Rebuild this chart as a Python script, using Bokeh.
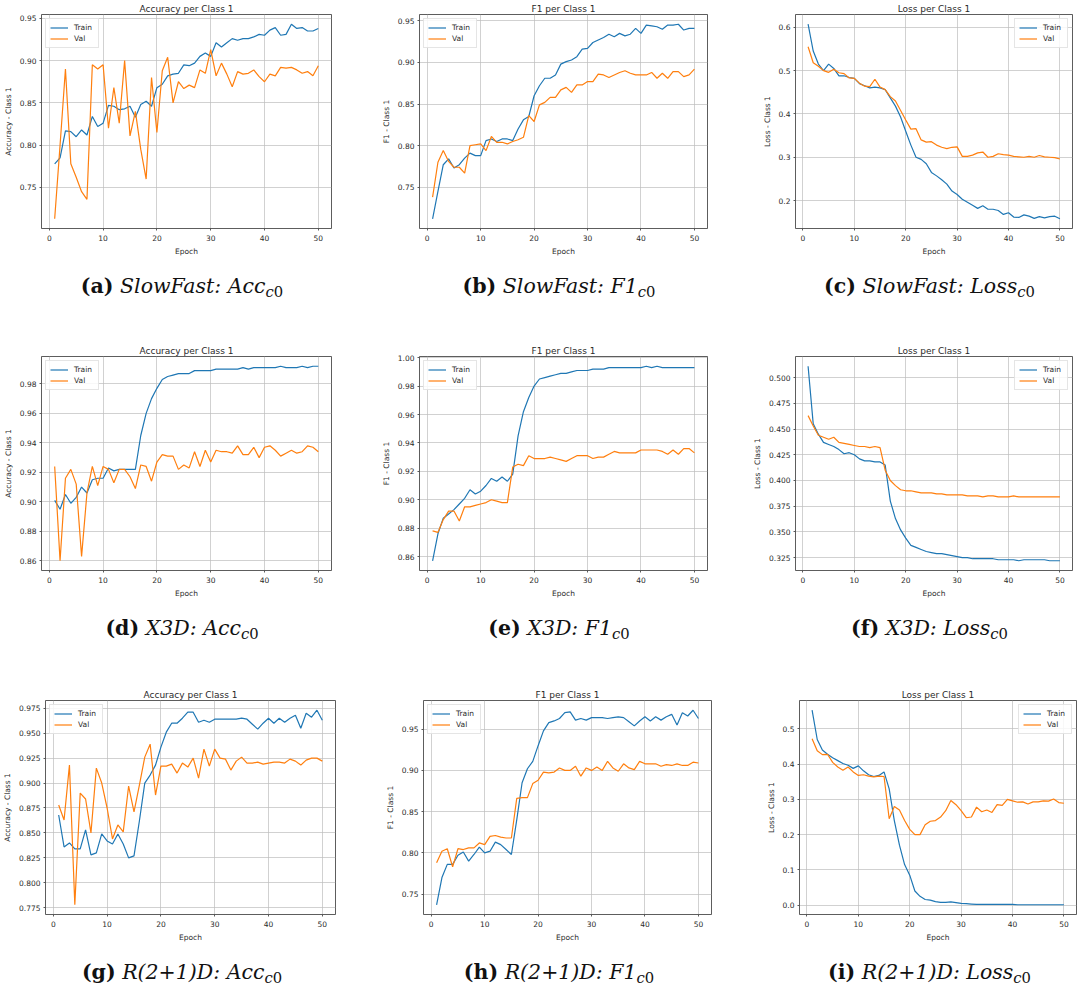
import numpy as np
from bokeh.plotting import figure
from bokeh.models import (Range1d, FixedTicker, PrintfTickFormatter, Legend,
                          LegendItem, Div)
from bokeh.layouts import column, row
from bokeh.embed import file_html
from bokeh.resources import INLINE

epochs = list(range(1, 51))

# ---------------- SlowFast ----------------
sf_acc_train = [0.778, 0.785, 0.817, 0.816, 0.810, 0.818, 0.812, 0.834, 0.822, 0.826,
                0.847, 0.846, 0.842, 0.843, 0.846, 0.833, 0.848, 0.852, 0.846, 0.868,
                0.872, 0.882, 0.884, 0.885, 0.895, 0.894, 0.897, 0.905, 0.909, 0.905,
                0.921, 0.916, 0.921, 0.926, 0.924, 0.926, 0.926, 0.928, 0.931, 0.930,
                0.936, 0.939, 0.930, 0.931, 0.943, 0.938, 0.939, 0.935, 0.935, 0.938]
sf_acc_val = [0.713, 0.800, 0.890, 0.778, 0.762, 0.745, 0.736, 0.895, 0.890, 0.895,
              0.820, 0.868, 0.826, 0.900, 0.811, 0.840, 0.795, 0.760, 0.880, 0.815,
              0.888, 0.904, 0.850, 0.875, 0.867, 0.871, 0.868, 0.889, 0.885, 0.913,
              0.882, 0.897, 0.884, 0.869, 0.887, 0.884, 0.885, 0.889, 0.881, 0.875,
              0.884, 0.882, 0.892, 0.891, 0.892, 0.889, 0.885, 0.887, 0.882, 0.894]
sf_f1_train = [0.712, 0.745, 0.777, 0.784, 0.773, 0.777, 0.785, 0.791, 0.788, 0.788,
               0.806, 0.808, 0.805, 0.808, 0.808, 0.806, 0.820, 0.831, 0.835, 0.860,
               0.872, 0.881, 0.881, 0.885, 0.898, 0.901, 0.903, 0.907, 0.916, 0.917,
               0.924, 0.927, 0.930, 0.934, 0.931, 0.935, 0.932, 0.934, 0.941, 0.935,
               0.945, 0.944, 0.943, 0.940, 0.945, 0.945, 0.946, 0.939, 0.941, 0.941]
sf_f1_val = [0.738, 0.780, 0.794, 0.781, 0.774, 0.774, 0.767, 0.800, 0.801, 0.802,
             0.794, 0.811, 0.804, 0.804, 0.802, 0.805, 0.807, 0.810, 0.836, 0.829,
             0.849, 0.852, 0.858, 0.858, 0.867, 0.870, 0.864, 0.873, 0.873, 0.877,
             0.877, 0.886, 0.885, 0.882, 0.885, 0.888, 0.890, 0.887, 0.885, 0.885,
             0.885, 0.888, 0.881, 0.887, 0.881, 0.889, 0.889, 0.883, 0.885, 0.892]
sf_loss_train = [0.607, 0.545, 0.515, 0.500, 0.515, 0.505, 0.488, 0.488, 0.484, 0.482,
                 0.470, 0.465, 0.460, 0.462, 0.460, 0.456, 0.437, 0.418, 0.393, 0.360,
                 0.328, 0.300, 0.295, 0.285, 0.265, 0.257, 0.248, 0.238, 0.222, 0.214,
                 0.203, 0.196, 0.189, 0.182, 0.188, 0.180, 0.180, 0.177, 0.168, 0.172,
                 0.162, 0.161, 0.167, 0.164, 0.159, 0.163, 0.160, 0.163, 0.164, 0.158]
sf_loss_val = [0.555, 0.518, 0.510, 0.500, 0.496, 0.503, 0.495, 0.493, 0.483, 0.482,
               0.471, 0.464, 0.463, 0.480, 0.462, 0.456, 0.440, 0.430, 0.408, 0.386,
               0.365, 0.366, 0.340, 0.335, 0.336, 0.328, 0.323, 0.320, 0.323, 0.324,
               0.302, 0.302, 0.305, 0.310, 0.312, 0.300, 0.302, 0.308, 0.306, 0.305,
               0.302, 0.301, 0.300, 0.302, 0.300, 0.304, 0.301, 0.300, 0.299, 0.296]

# ---------------- X3D ----------------
x3d_acc_train = [0.901, 0.895, 0.905, 0.899, 0.903, 0.910, 0.906, 0.915, 0.916, 0.916,
                 0.923, 0.921, 0.922, 0.922, 0.922, 0.922, 0.945, 0.960, 0.970, 0.977,
                 0.983, 0.985, 0.986, 0.987, 0.987, 0.987, 0.989, 0.989, 0.989, 0.989,
                 0.990, 0.990, 0.990, 0.990, 0.990, 0.991, 0.990, 0.991, 0.991, 0.991,
                 0.991, 0.991, 0.992, 0.991, 0.991, 0.991, 0.992, 0.991, 0.992, 0.992]
x3d_acc_val = [0.924, 0.860, 0.916, 0.922, 0.912, 0.863, 0.906, 0.924, 0.911, 0.924,
               0.922, 0.913, 0.922, 0.922, 0.917, 0.909, 0.925, 0.924, 0.914, 0.927,
               0.932, 0.931, 0.931, 0.922, 0.925, 0.923, 0.934, 0.924, 0.935, 0.927,
               0.935, 0.934, 0.934, 0.933, 0.938, 0.932, 0.932, 0.937, 0.930, 0.937,
               0.938, 0.935, 0.931, 0.933, 0.935, 0.933, 0.934, 0.938, 0.937, 0.934]
x3d_f1_train = [0.857, 0.876, 0.887, 0.890, 0.893, 0.897, 0.901, 0.907, 0.904, 0.906,
                0.910, 0.915, 0.913, 0.916, 0.913, 0.918, 0.945, 0.962, 0.972, 0.980,
                0.985, 0.986, 0.987, 0.988, 0.989, 0.989, 0.990, 0.991, 0.991, 0.991,
                0.992, 0.992, 0.992, 0.993, 0.993, 0.993, 0.993, 0.993, 0.993, 0.993,
                0.994, 0.993, 0.994, 0.993, 0.993, 0.993, 0.993, 0.993, 0.993, 0.993]
x3d_f1_val = [0.878, 0.877, 0.886, 0.892, 0.892, 0.885, 0.895, 0.895, 0.896, 0.897,
              0.898, 0.900, 0.899, 0.898, 0.898, 0.923, 0.925, 0.924, 0.931, 0.929,
              0.929, 0.929, 0.930, 0.929, 0.928, 0.927, 0.929, 0.931, 0.931, 0.931,
              0.929, 0.930, 0.930, 0.932, 0.934, 0.933, 0.933, 0.933, 0.933, 0.935,
              0.935, 0.935, 0.935, 0.934, 0.932, 0.935, 0.932, 0.936, 0.936, 0.933]
x3d_loss_train = [0.511, 0.455, 0.445, 0.437, 0.435, 0.433, 0.430, 0.426, 0.427, 0.425,
                  0.421, 0.419, 0.419, 0.418, 0.418, 0.415, 0.380, 0.363, 0.352, 0.344,
                  0.337, 0.335, 0.333, 0.331, 0.330, 0.329, 0.329, 0.328, 0.327, 0.326,
                  0.325, 0.325, 0.324, 0.324, 0.324, 0.324, 0.324, 0.323, 0.323, 0.323,
                  0.323, 0.322, 0.323, 0.323, 0.323, 0.323, 0.323, 0.322, 0.322, 0.322]
x3d_loss_val = [0.463, 0.453, 0.444, 0.442, 0.440, 0.442, 0.437, 0.436, 0.435, 0.434,
                0.433, 0.433, 0.432, 0.433, 0.432, 0.410, 0.400, 0.395, 0.391, 0.390,
                0.390, 0.389, 0.388, 0.388, 0.388, 0.387, 0.387, 0.386, 0.386, 0.386,
                0.386, 0.385, 0.385, 0.385, 0.384, 0.385, 0.385, 0.384, 0.384, 0.384,
                0.385, 0.384, 0.384, 0.384, 0.384, 0.384, 0.384, 0.384, 0.384, 0.384]

# ---------------- R(2+1)D ----------------
r21_acc_train = [0.868, 0.836, 0.840, 0.834, 0.834, 0.853, 0.828, 0.830, 0.849, 0.842,
                 0.839, 0.849, 0.839, 0.825, 0.827, 0.862, 0.900, 0.908, 0.918, 0.936,
                 0.951, 0.960, 0.960, 0.965, 0.971, 0.971, 0.961, 0.963, 0.961, 0.964,
                 0.964, 0.964, 0.964, 0.964, 0.965, 0.964, 0.959, 0.954, 0.960, 0.965,
                 0.960, 0.965, 0.961, 0.965, 0.968, 0.955, 0.970, 0.966, 0.973, 0.963]
r21_acc_val = [0.878, 0.863, 0.918, 0.778, 0.890, 0.884, 0.850, 0.915, 0.900, 0.875,
               0.844, 0.858, 0.851, 0.897, 0.871, 0.898, 0.926, 0.939, 0.888, 0.917,
               0.917, 0.919, 0.910, 0.920, 0.916, 0.925, 0.905, 0.934, 0.917, 0.934,
               0.925, 0.924, 0.913, 0.922, 0.926, 0.920, 0.920, 0.921, 0.919, 0.920,
               0.921, 0.921, 0.920, 0.924, 0.922, 0.918, 0.923, 0.925, 0.925, 0.922]
r21_f1_train = [0.737, 0.770, 0.786, 0.786, 0.797, 0.801, 0.790, 0.798, 0.807, 0.800,
                0.802, 0.813, 0.810, 0.804, 0.798, 0.840, 0.885, 0.902, 0.911, 0.930,
                0.948, 0.958, 0.960, 0.963, 0.970, 0.971, 0.961, 0.963, 0.961, 0.964,
                0.964, 0.964, 0.963, 0.964, 0.965, 0.964, 0.959, 0.954, 0.960, 0.965,
                0.960, 0.965, 0.961, 0.965, 0.968, 0.955, 0.970, 0.966, 0.973, 0.963]
r21_f1_val = [0.788, 0.802, 0.805, 0.783, 0.805, 0.804, 0.806, 0.806, 0.812, 0.810,
              0.820, 0.821, 0.819, 0.818, 0.818, 0.866, 0.867, 0.867, 0.884, 0.888,
              0.898, 0.897, 0.898, 0.903, 0.900, 0.900, 0.905, 0.893, 0.903, 0.900,
              0.904, 0.900, 0.911, 0.903, 0.899, 0.908, 0.903, 0.901, 0.911, 0.908,
              0.908, 0.908, 0.905, 0.907, 0.906, 0.908, 0.906, 0.906, 0.910, 0.909]
r21_loss_train = [0.553, 0.470, 0.440, 0.428, 0.418, 0.410, 0.402, 0.397, 0.388, 0.395,
                  0.381, 0.370, 0.365, 0.368, 0.378, 0.330, 0.240, 0.170, 0.115, 0.085,
                  0.040, 0.025, 0.016, 0.014, 0.010, 0.008, 0.008, 0.009, 0.007, 0.005,
                  0.004, 0.003, 0.002, 0.002, 0.002, 0.002, 0.002, 0.002, 0.002, 0.002,
                  0.001, 0.001, 0.001, 0.001, 0.001, 0.001, 0.001, 0.001, 0.001, 0.001]
r21_loss_val = [0.472, 0.438, 0.427, 0.428, 0.405, 0.392, 0.383, 0.392, 0.378, 0.368,
                0.370, 0.366, 0.364, 0.366, 0.365, 0.245, 0.280, 0.270, 0.240, 0.215,
                0.200, 0.200, 0.228, 0.238, 0.240, 0.250, 0.268, 0.297, 0.285, 0.268,
                0.248, 0.250, 0.278, 0.265, 0.270, 0.263, 0.285, 0.283, 0.300, 0.296,
                0.292, 0.293, 0.287, 0.293, 0.293, 0.296, 0.295, 0.301, 0.291, 0.289]

# ---------------- tick labels / texts ----------------
x_ticks = [0, 10, 20, 30, 40, 50]
ticks_a = [0.75, 0.80, 0.85, 0.90, 0.95]
ticks_b = [0.75, 0.80, 0.85, 0.90, 0.95]
ticks_c = [0.2, 0.3, 0.4, 0.5, 0.6]
ticks_d = [0.86, 0.88, 0.90, 0.92, 0.94, 0.96, 0.98]
ticks_e = [0.86, 0.88, 0.90, 0.92, 0.94, 0.96, 0.98, 1.00]
ticks_f = [0.325, 0.350, 0.375, 0.400, 0.425, 0.450, 0.475, 0.500]
ticks_g = [0.775, 0.800, 0.825, 0.850, 0.875, 0.900, 0.925, 0.950, 0.975]
ticks_h = [0.75, 0.80, 0.85, 0.90, 0.95]
ticks_i = [0.0, 0.1, 0.2, 0.3, 0.4, 0.5]

titles = ["Accuracy per Class 1", "F1 per Class 1", "Loss per Class 1"]
ylabels = ["Accuracy - Class 1", "F1 - Class 1", "Loss - Class 1"]
series_names = ["Train", "Val"]
captions = [
    ("(a)", "SlowFast: Acc"), ("(b)", "SlowFast: F1"), ("(c)", "SlowFast: Loss"),
    ("(d)", "X3D: Acc"), ("(e)", "X3D: F1"), ("(f)", "X3D: Loss"),
    ("(g)", "R(2+1)D: Acc"), ("(h)", "R(2+1)D: F1"), ("(i)", "R(2+1)D: Loss"),
]

BLUE = "#1f77b4"
ORANGE = "#ff7f0e"
FONT = "DejaVu Sans"
TXT = "#2a2a2a"

# column geometry: (border_left, frame_width, border_right)
COLS = [(37, 290, 23), (65, 288, 20), (68, 277, 2)]
FRAME_H = 214
TOP = 14
BOTTOM = 30


def make_fig(col, train, val, title, ylabel, yticks, yfmt, loc):
    bl, fw, br = COLS[col]
    lo = min(min(train), min(val))
    hi = max(max(train), max(val))
    pad = 0.05 * (hi - lo)
    xpad = 0.05 * (max(epochs) - min(epochs))
    p = figure(frame_width=fw, frame_height=FRAME_H, output_backend="svg",
               toolbar_location=None,
               x_range=Range1d(min(epochs) - xpad, max(epochs) + xpad),
               y_range=Range1d(lo - pad, hi + pad),
               min_border_left=bl, min_border_right=br,
               min_border_top=TOP, min_border_bottom=BOTTOM)
    p.title.text = title
    p.title.align = "center"
    p.title.text_font = FONT
    p.title.text_font_size = "9px"
    p.title.text_font_style = "normal"
    p.title.text_color = TXT
    p.title.standoff = 1
    p.title.offset = 0

    p.outline_line_color = "#333333"
    p.outline_line_width = 0.8
    p.background_fill_color = "white"
    p.border_fill_color = "white"

    p.xaxis.ticker = FixedTicker(ticks=x_ticks)
    p.yaxis.ticker = FixedTicker(ticks=yticks)
    p.yaxis.formatter = PrintfTickFormatter(format=yfmt)
    p.xaxis.axis_label = "Epoch"
    p.yaxis.axis_label = ylabel
    for ax in (p.xaxis[0], p.yaxis[0]):
        ax.axis_line_color = None
        ax.major_tick_line_color = "#333333"
        ax.major_tick_line_width = 0.8
        ax.major_tick_out = 2
        ax.major_tick_in = 0
        ax.minor_tick_line_color = None
        ax.major_label_text_font = FONT
        ax.major_label_text_font_size = "7.5px"
        ax.major_label_text_color = TXT
        ax.axis_label_text_font = FONT
        ax.axis_label_text_font_size = "7.5px"
        ax.axis_label_text_font_style = "normal"
        ax.axis_label_text_color = TXT
    p.xaxis.major_label_standoff = 4
    p.xaxis.axis_label_standoff = 3
    p.yaxis.major_label_standoff = 3
    p.yaxis.axis_label_standoff = 4
    p.grid.grid_line_color = "#bdbdbd"
    p.grid.grid_line_width = 0.7

    r1 = p.line(epochs, train, line_color=BLUE, line_width=1.2)
    r2 = p.line(epochs, val, line_color=ORANGE, line_width=1.2)
    leg = Legend(items=[LegendItem(label=series_names[0], renderers=[r1]),
                        LegendItem(label=series_names[1], renderers=[r2])],
                 location=loc)
    leg.label_text_font = FONT
    leg.label_text_font_size = "7.5px"
    leg.label_text_color = TXT
    leg.glyph_width = 18
    leg.glyph_height = 9
    leg.label_height = 9
    leg.label_standoff = 6
    leg.spacing = 2
    leg.padding = 4
    leg.margin = 4
    leg.border_line_color = "#cccccc"
    leg.border_line_width = 0.8
    leg.background_fill_alpha = 0.85
    p.add_layout(leg)
    return p


def make_caption(col, idx, height):
    bl, fw, br = COLS[col]
    letter, body = captions[idx]
    html = ('<div style="width:%dpx;margin-left:%dpx;text-align:center;padding-top:18px;'
            'line-height:20px;font-family:\'DejaVu Serif\';font-size:20.5px;color:#111;'
            'white-space:nowrap;">'
            '<b>%s</b> <i>%s</i><sub style="font-size:0.72em;vertical-align:-0.3em;'
            'line-height:0;"><i>c</i>0</sub></div>') % (fw, bl, letter, body)
    return Div(text=html, width=bl + fw + br, height=height, margin=0)


data = [
    [(sf_acc_train, sf_acc_val, ticks_a, "%.2f", "top_left"),
     (sf_f1_train, sf_f1_val, ticks_b, "%.2f", "top_left"),
     (sf_loss_train, sf_loss_val, ticks_c, "%.1f", "top_right")],
    [(x3d_acc_train, x3d_acc_val, ticks_d, "%.2f", "top_left"),
     (x3d_f1_train, x3d_f1_val, ticks_e, "%.2f", "top_left"),
     (x3d_loss_train, x3d_loss_val, ticks_f, "%.3f", "top_right")],
    [(r21_acc_train, r21_acc_val, ticks_g, "%.3f", "top_left"),
     (r21_f1_train, r21_f1_val, ticks_h, "%.2f", "top_left"),
     (r21_loss_train, r21_loss_val, ticks_i, "%.1f", "top_right")],
]
cap_heights = [84, 86, 40]

rows = []
for ri, rdata in enumerate(data):
    figs = []
    caps = []
    for ci, (tr, va, tk, fmt, loc) in enumerate(rdata):
        figs.append(make_fig(ci, tr, va, titles[ci], ylabels[ci], tk, fmt, loc))
        caps.append(make_caption(ci, ri * 3 + ci, cap_heights[ri]))
    rows.append(row(figs, spacing=0))
    rows.append(row(caps, spacing=0))

layout = column(rows, spacing=0)
open("out.html", "w").write(file_html(layout, INLINE))
